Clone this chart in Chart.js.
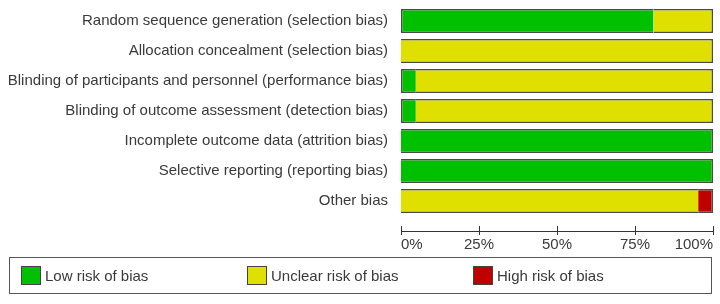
<!DOCTYPE html>
<html>
<head>
<meta charset="utf-8">
<title>Risk of bias graph</title>
<script src="https://cdn.jsdelivr.net/npm/chart.js@4"></script>
<style>
  body { margin: 0; background: #fff; }
  #wrap { position: relative; width: 720px; height: 304px; }
  #legend {
    position: absolute; left: 9px; top: 257px; width: 701px; height: 35px;
    border: 1px solid #555; display: flex; align-items: center;
    font-family: "Liberation Sans", Arial, sans-serif; font-size: 15px; color: #3a3a3a;
  }
  .item { width: 226px; display: flex; align-items: center; }
  .item:first-child { margin-left: 11px; }
  .swatch { width: 18px; height: 17px; border: 1px solid #444; margin-right: 4px; }
</style>
</head>
<body>
<div id="wrap">
  <canvas id="chart" width="720" height="304"></canvas>
  <div id="legend"></div>
</div>
<script>
// Risk of bias domains (top to bottom)
const domains = [
    'Random sequence generation (selection bias)',
    'Allocation concealment (selection bias)',
    'Blinding of participants and personnel (performance bias)',
    'Blinding of outcome assessment (detection bias)',
    'Incomplete outcome data (attrition bias)',
    'Selective reporting (reporting bias)',
    'Other bias'
];

// percent of studies per judgement
const lowRisk     = [80.95, 0, 4.76, 4.76, 100, 100, 0];
const unclearRisk = [19.05, 100, 95.24, 95.24, 0, 0, 95.24];
const highRisk    = [0, 0, 0, 0, 0, 0, 4.76];

const xTicks = [0, 25, 50, 75, 100];

const textColor = '#3a3a3a';
const fontFamily = '"Liberation Sans", Arial, sans-serif';

function buildLegend(chart) {
    const box = document.getElementById('legend');
    box.innerHTML = '';
    chart.data.datasets.forEach(ds => {
        const item = document.createElement('div');
        item.className = 'item';
        item.innerHTML = `<span class="swatch" style="background:${ds.backgroundColor}"></span><span>${ds.label}</span>`;
        box.appendChild(item);
    });
}

const ctx = document.getElementById('chart').getContext('2d');
const chart = new Chart(ctx, {
    type: 'bar',
    data: {
        labels: domains,
        datasets: [
            { label: 'Low risk of bias', data: lowRisk, backgroundColor: '#00c000' },
            { label: 'Unclear risk of bias', data: unclearRisk, backgroundColor: '#e0e000' },
            { label: 'High risk of bias', data: highRisk, backgroundColor: '#c00000' }
        ].map(ds => Object.assign(ds, {
            borderColor: '#4a4a4a',
            borderWidth: 1.5,
            borderSkipped: 'middle',
            categoryPercentage: 1,
            barPercentage: 0.8
        }))
    },
    options: {
        indexAxis: 'y',
        responsive: false,
        animation: false,
        layout: { padding: { left: 5, right: 7, top: 6, bottom: 88 } },
        plugins: {
            legend: { display: false },
            tooltip: { enabled: false }
        },
        scales: {
            y: {
                stacked: true,
                grid: { display: false, drawTicks: false },
                border: { display: false },
                // let the long labels take the room they need
                afterFit: axis => {
                    axis.width = 396;
                    axis.paddingTop = 0;
                    axis.paddingBottom = 0;
                },
                ticks: { color: textColor, padding: 13, font: { family: fontFamily, size: 15 } }
            },
            x: {
                stacked: true,
                min: 0,
                max: 100,
                position: { y: 7 },
                grid: { display: false, drawTicks: false },
                border: { display: true, color: '#333', width: 1 },
                afterBuildTicks: axis => { axis.ticks = xTicks.map(v => ({ value: v })); },
                ticks: {
                    align: 'inner',
                    padding: 5,
                    color: textColor,
                    font: { family: fontFamily, size: 15 },
                    callback: v => v + '%'
                }
            },
            // tick marks crossing the axis line
            x2: {
                type: 'linear',
                min: 0,
                max: 100,
                position: { y: 6.84 },
                grid: { display: true, drawOnChartArea: false, drawTicks: true, tickLength: 9, color: '#333' },
                border: { display: false },
                afterBuildTicks: axis => { axis.ticks = xTicks.map(v => ({ value: v })); },
                ticks: { display: false }
            }
        }
    }
});
buildLegend(chart);
</script>
</body>
</html>
